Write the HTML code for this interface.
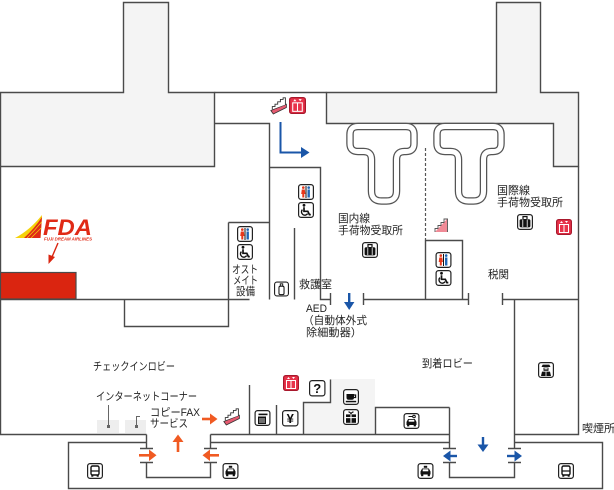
<!DOCTYPE html>
<html>
<head>
<meta charset="utf-8">
<style>
html,body{margin:0;padding:0;background:#fff;}
svg{display:block;}
text{font-family:"Liberation Sans","Noto Sans CJK JP",sans-serif;font-size:11px;fill:#222;}
</style>
</head>
<body>
<svg width="614" height="490" viewBox="0 0 614 490" xmlns="http://www.w3.org/2000/svg">
<defs>
  <symbol id="bus" viewBox="0 0 16 16">
    <rect x="0.6" y="0.6" width="14.8" height="14.8" rx="2.5" fill="#fff" stroke="#222" stroke-width="1.2"/>
    <rect x="4" y="3" width="8" height="9" rx="1.5" fill="#fff" stroke="#111" stroke-width="1.4"/>
    <line x1="4" y1="8" x2="12" y2="8" stroke="#111" stroke-width="1.2"/>
    <rect x="4.3" y="11.5" width="2" height="2.2" fill="#111"/>
    <rect x="9.7" y="11.5" width="2" height="2.2" fill="#111"/>
  </symbol>
  <symbol id="taxi" viewBox="0 0 16 16">
    <rect x="0.6" y="0.6" width="14.8" height="14.8" rx="2.5" fill="#fff" stroke="#222" stroke-width="1.2"/>
    <rect x="6.3" y="2.8" width="3.4" height="2" fill="#111"/>
    <path d="M3,11.5 V8.5 L4.6,5.5 H11.4 L13,8.5 V11.5 Z" fill="#111"/>
    <rect x="5.2" y="6.3" width="5.6" height="2" fill="#fff"/>
    <rect x="3.6" y="11" width="2.2" height="2.2" fill="#111"/>
    <rect x="10.2" y="11" width="2.2" height="2.2" fill="#111"/>
  </symbol>
  <symbol id="wc" viewBox="0 0 16 16">
    <rect x="0.6" y="0.6" width="14.8" height="14.8" rx="2.5" fill="#fff" stroke="#222" stroke-width="1.2"/>
    <circle cx="5.3" cy="3.6" r="1.3" fill="#e8381b"/>
    <path d="M3.8,5.5 H6.8 L7.4,10 H6.3 V13.5 H4.3 V10 H3.2 Z" fill="#e8381b"/>
    <line x1="8" y1="2" x2="8" y2="14" stroke="#111" stroke-width="1"/>
    <circle cx="10.7" cy="3.6" r="1.3" fill="#1f66b5"/>
    <rect x="9.5" y="5.5" width="2.4" height="8" fill="#1f66b5"/>
  </symbol>
  <symbol id="whl" viewBox="0 0 16 16">
    <rect x="0.6" y="0.6" width="14.8" height="14.8" rx="2.5" fill="#fff" stroke="#222" stroke-width="1.2"/>
    <circle cx="6" cy="3.3" r="1.4" fill="#111"/>
    <path d="M6,5.3 V9.3 H9.8 L11.4,12.6 H12.8" fill="none" stroke="#111" stroke-width="1.7"/>
    <path d="M4.4,7.6 A3.3,3.3 0 1 0 9.6,11.6" fill="none" stroke="#111" stroke-width="1.4"/>
  </symbol>
  <symbol id="elv" viewBox="0 0 16 16">
    <rect x="0.6" y="0.6" width="14.8" height="14.8" rx="2" fill="#e8334a" stroke="#a8182c" stroke-width="1.2"/>
    <rect x="3.5" y="5.5" width="9" height="8" fill="none" stroke="#fff" stroke-width="1"/>
    <line x1="8" y1="5.5" x2="8" y2="13.5" stroke="#fff" stroke-width="1"/>
    <path d="M4,4 L5.5,2 L7,4 Z M9,2 L10.5,4 L12,2 Z" fill="#fff"/>
  </symbol>
  <symbol id="esc" viewBox="0 0 17 18">
    <path d="M0.8,13.5 L3.3,17 L16.4,10.5 L16.4,7.2 Z" fill="#e55a70" stroke="#333" stroke-width="0.8"/>
    <path d="M2.3,12.4 V9.6 H5 V7.2 H7.7 V4.8 H10.4 V2.4 H13.1 V0.8 H15.4 V7.6" fill="#fff" stroke="#333" stroke-width="0.9"/>
  </symbol>
  <symbol id="stair" viewBox="0 0 14 16">
    <path d="M1,15 L13.5,15 L13.5,1.5 Z" fill="#f08a96"/>
    <path d="M1,15 V11.5 H4 V8.5 H7 V5.5 H10 V2 H13.5 V15" fill="none" stroke="#555" stroke-width="0.9"/>
  </symbol>
  <symbol id="bag" viewBox="0 0 16 16">
    <rect x="0.6" y="0.6" width="14.8" height="14.8" rx="2.5" fill="#fff" stroke="#222" stroke-width="1.2"/>
    <rect x="6" y="2.6" width="4" height="3" fill="none" stroke="#111" stroke-width="1.2"/>
    <rect x="2.6" y="5.2" width="10.8" height="8.2" rx="1.5" fill="#111"/>
    <line x1="5.8" y1="5.5" x2="5.8" y2="13" stroke="#fff" stroke-width="0.8"/>
    <line x1="10.2" y1="5.5" x2="10.2" y2="13" stroke="#fff" stroke-width="0.8"/>
  </symbol>
  <symbol id="bottle" viewBox="0 0 16 16">
    <rect x="0.6" y="0.6" width="14.8" height="14.8" rx="2.5" fill="#fff" stroke="#222" stroke-width="1.2"/>
    <rect x="6.7" y="2.5" width="2.6" height="2.5" fill="none" stroke="#111" stroke-width="1"/>
    <rect x="5.3" y="5" width="5.4" height="9" rx="1.5" fill="#fff" stroke="#111" stroke-width="1.1"/>
  </symbol>
  <symbol id="customs" viewBox="0 0 16 16">
    <rect x="0.6" y="0.6" width="14.8" height="14.8" rx="2.5" fill="#fff" stroke="#222" stroke-width="1.2"/>
    <path d="M3.5,5 H12.5 L11.3,2.6 H4.7 Z" fill="#111"/>
    <rect x="5.5" y="5.6" width="5" height="3.2" fill="#111"/>
    <rect x="6.4" y="6.2" width="3.2" height="1.2" fill="#fff"/>
    <path d="M3,14 L4,9.6 H12 L13,14 Z" fill="#111"/>
    <line x1="8" y1="9.6" x2="8" y2="14" stroke="#fff" stroke-width="0.8"/>
  </symbol>
  <symbol id="atm" viewBox="0 0 16 16">
    <rect x="0.6" y="0.6" width="14.8" height="14.8" rx="2.5" fill="#fff" stroke="#222" stroke-width="1.2"/>
    <rect x="4" y="3.6" width="9" height="1.6" fill="#111"/>
    <rect x="3.5" y="6.5" width="8" height="7.5" fill="#111"/>
    <line x1="5.5" y1="8" x2="5.5" y2="13" stroke="#fff" stroke-width="0.8"/>
    <line x1="7.5" y1="8" x2="7.5" y2="13" stroke="#fff" stroke-width="0.8"/>
    <line x1="9.5" y1="8" x2="9.5" y2="13" stroke="#fff" stroke-width="0.8"/>
  </symbol>
  <symbol id="coffee" viewBox="0 0 16 16">
    <rect x="0.6" y="0.6" width="14.8" height="14.8" rx="2.5" fill="#fff" stroke="#222" stroke-width="1.2"/>
    <path d="M3.5,5 H11 V8.5 Q11,10.8 8.8,10.8 H5.7 Q3.5,10.8 3.5,8.5 Z" fill="#111"/>
    <path d="M11,6 H12.6 V8.5 H11" fill="none" stroke="#111" stroke-width="1.2"/>
    <rect x="2.8" y="11.8" width="10.4" height="1.5" fill="#111"/>
  </symbol>
  <symbol id="gift" viewBox="0 0 16 16">
    <rect x="0.6" y="0.6" width="14.8" height="14.8" rx="2.5" fill="#fff" stroke="#222" stroke-width="1.2"/>
    <path d="M5.5,2.8 Q8,3.6 8,5.2 Q8,3.6 10.5,2.8" fill="none" stroke="#111" stroke-width="1.1"/>
    <rect x="3" y="5.4" width="10" height="8.4" fill="#111"/>
    <line x1="8" y1="5.4" x2="8" y2="13.8" stroke="#fff" stroke-width="1.1"/>
    <line x1="3" y1="8.6" x2="13" y2="8.6" stroke="#fff" stroke-width="1.1"/>
  </symbol>
  <symbol id="rent" viewBox="0 0 16 16">
    <rect x="0.6" y="0.6" width="14.8" height="14.8" rx="2.5" fill="#fff" stroke="#222" stroke-width="1.2"/>
    <circle cx="10.5" cy="3.5" r="1.3" fill="none" stroke="#111" stroke-width="1"/>
    <line x1="5" y1="3.5" x2="9.2" y2="3.5" stroke="#111" stroke-width="1"/>
    <path d="M3,12 V9 L4.6,6 H11.4 L13,9 V12 Z" fill="#111"/>
    <rect x="5.2" y="6.8" width="5.6" height="1.9" fill="#fff"/>
    <rect x="3.6" y="11.4" width="2.2" height="2" fill="#111"/>
    <rect x="10.2" y="11.4" width="2.2" height="2" fill="#111"/>
  </symbol>
</defs>

<!-- gray blocks -->
<path d="M0.5,92.5 H123.5 V2.5 H168.5 V92.5 H214.5 V166.5 H0.5 Z" fill="#f4f4f4" stroke="#4a4a4a" stroke-width="1.4"/>
<path d="M326.5,92.5 H496.5 V2.5 H540.5 V92.5 H578.5 V166.5 H553.5 V123.5 H326.5 Z" fill="#f4f4f4" stroke="#4a4a4a" stroke-width="1.4"/>
<path d="M303,402 H330 V379 H375 V434 H303 Z" fill="#f4f4f4"/>
<rect x="97" y="420" width="22" height="13" fill="#eeeeee"/>
<rect x="125" y="420" width="21" height="13" fill="#eeeeee"/>

<!-- walls -->
<g fill="none" stroke="#4a4a4a" stroke-width="1.4">
  <path d="M214.5,92.5 H326.5"/>
  <path d="M214.5,123.5 H269.5 V299.5"/>
  <path d="M269.5,167.5 H320.5 V299.5 H330.5"/>
  <path d="M330.5,293 V305"/>
  <path d="M363.5,293 V305 M363.5,299.5 H468.5 M468.5,293 V305"/>
  <path d="M502.5,293 V305 M502.5,299.5 H578.5"/>
  <path d="M425.5,299.5 V240.5 H462.5 V299.5"/>
  <path d="M578.5,166.5 V434.5 H514.5"/>
  <path d="M0.5,166.5 V434.5 H146.5"/>
  <path d="M228.5,222.5 H269.5"/>
  <path d="M228.5,222.5 V326.5 H124.5 V299.5"/>
  <path d="M0.5,299.5 H249.5"/>
  <path d="M294.5,228 V299.5"/>
  <path d="M249.5,385 V434.5"/>
  <path d="M276.5,405 V434.5"/>
  <path d="M303.5,434.5 V402.5 H330.5 V379.5"/>
  <path d="M375.5,434.5 V407.5 H449.5"/>
  <!-- curb box -->
  <path d="M146.5,442.5 H68.5 V488.5 H602.5 V442.5 H514.5"/>
  <path d="M210.5,434.5 H449.5 M210.5,442.5 H449.5"/>
  <!-- left entrance -->
  <path d="M146.5,434.5 V448.5 M140,448.5 H153 M140,462.5 H153 M146.5,462.5 V477.5 H210.5 V462.5 M204,462.5 H217 M204,448.5 H217 M210.5,448.5 V434.5"/>
  <!-- right entrance -->
  <path d="M449.5,407.5 V448.5 M443,448.5 H456 M443,462.5 H456 M449.5,462.5 V477.5 H514.5 V462.5 M508,462.5 H521 M508,448.5 H521 M514.5,448.5 V299.5"/>
</g>
<path d="M425.5,148 V240" fill="none" stroke="#555" stroke-width="1.2" stroke-dasharray="3,2"/>

<!-- carousels -->
<g fill="none">
  <path id="tr" d="M358,126.5 H406 Q414,126.5 414,134.5 V143.5 Q414,151.5 406,151.5 H404.5 Q396.5,151.5 396.5,159.5 V191 Q396.5,201 386.5,201 H381.5 Q371.5,201 371.5,191 V159.5 Q371.5,151.5 363.5,151.5 H358 Q350,151.5 350,143.5 V134.5 Q350,126.5 358,126.5 Z" stroke="#555" stroke-width="7.5"/>
  <path d="M358,126.5 H406 Q414,126.5 414,134.5 V143.5 Q414,151.5 406,151.5 H404.5 Q396.5,151.5 396.5,159.5 V191 Q396.5,201 386.5,201 H381.5 Q371.5,201 371.5,191 V159.5 Q371.5,151.5 363.5,151.5 H358 Q350,151.5 350,143.5 V134.5 Q350,126.5 358,126.5 Z" stroke="#fff" stroke-width="5"/>
  <g transform="translate(87,0)">
    <path d="M358,126.5 H406 Q414,126.5 414,134.5 V143.5 Q414,151.5 406,151.5 H404.5 Q396.5,151.5 396.5,159.5 V191 Q396.5,201 386.5,201 H381.5 Q371.5,201 371.5,191 V159.5 Q371.5,151.5 363.5,151.5 H358 Q350,151.5 350,143.5 V134.5 Q350,126.5 358,126.5 Z" stroke="#555" stroke-width="7.5"/>
    <path d="M358,126.5 H406 Q414,126.5 414,134.5 V143.5 Q414,151.5 406,151.5 H404.5 Q396.5,151.5 396.5,159.5 V191 Q396.5,201 386.5,201 H381.5 Q371.5,201 371.5,191 V159.5 Q371.5,151.5 363.5,151.5 H358 Q350,151.5 350,143.5 V134.5 Q350,126.5 358,126.5 Z" stroke="#fff" stroke-width="5"/>
  </g>
</g>

<!-- red FDA counter -->
<rect x="0.5" y="272.5" width="75.5" height="26.5" fill="#da2510" stroke="#4a4a4a" stroke-width="1.2"/>

<!-- FDA logo -->
<path d="M15,238 Q30,230 42,215 L40.5,238 Z" fill="#f5d20a"/>
<path d="M24,238 Q34,229 42,217 L40.5,238 Z" fill="#e02a16"/>
<path d="M27,238 Q35,230 41.6,222 M31,238 Q37,232 41.2,228" fill="none" stroke="#f5d20a" stroke-width="0.7"/>
<text x="43" y="235" textLength="49" lengthAdjust="spacingAndGlyphs" style="font-size:22px;font-weight:bold;font-style:italic;fill:#e02a16">FDA</text>
<text x="44" y="240.5" textLength="48" lengthAdjust="spacingAndGlyphs" style="font-size:4.6px;font-weight:bold;font-style:italic;fill:#e02a16">FUJI DREAM AIRLINES</text>
<line x1="58" y1="243" x2="52" y2="257" stroke="#da2510" stroke-width="1.4"/>
<polygon points="48.5,264 48.5,254.5 55,257" fill="#da2510"/>

<!-- kiosk leaders -->
<path d="M108.5,405 V427 M140,416.5 H136.5 V427" fill="none" stroke="#666" stroke-width="1"/>
<rect x="107" y="425" width="3" height="3" fill="#666"/>
<rect x="135" y="425" width="3" height="3" fill="#666"/>

<!-- orange arrows -->
<g fill="#f05a22" stroke="none">
  <rect x="139" y="454" width="11" height="2.6"/><polygon points="149,449.5 156.5,455.3 149,461"/>
  <rect x="209" y="454" width="10" height="2.6"/><polygon points="210,449.5 202.5,455.3 210,461"/>
  <rect x="176.7" y="441" width="2.6" height="11"/><polygon points="172.5,442 178,434.5 183.5,442"/>
  <rect x="202" y="417.7" width="9" height="2.6"/><polygon points="210,413.5 217.5,419 210,424.5"/>
</g>
<!-- blue arrows -->
<g fill="#1a56a8">
  <path d="M280.5,122 V152.5 H302" fill="none" stroke="#1a56a8" stroke-width="2"/>
  <polygon points="301,147 309.5,152.5 301,158"/>
  <rect x="348" y="293" width="2.4" height="10"/><polygon points="344,302 349.2,310 354.4,302"/>
  <rect x="449" y="454.8" width="8" height="2.4"/><polygon points="450.5,450.5 443,456 450.5,461.5"/>
  <rect x="507" y="454.8" width="8" height="2.4"/><polygon points="514.5,450.5 522,456 514.5,461.5"/>
  <rect x="481.8" y="437" width="2.4" height="8"/><polygon points="477.5,444.5 483,452 488.5,444.5"/>
</g>

<!-- icons -->
<use href="#esc" x="270" y="97" width="17" height="18"/>
<use href="#elv" x="289" y="97" width="17" height="17"/>
<use href="#wc" x="298" y="184" width="16" height="16"/>
<use href="#whl" x="298" y="202" width="16" height="16"/>
<use href="#wc" x="237" y="226" width="16" height="16"/>
<use href="#whl" x="237" y="244" width="16" height="16"/>
<use href="#bottle" x="274" y="281" width="15" height="16"/>
<use href="#bag" x="362" y="242" width="16" height="16"/>
<use href="#bag" x="517" y="214" width="16" height="16"/>
<use href="#elv" x="556" y="219" width="16" height="16"/>
<use href="#stair" x="434" y="217" width="14" height="16"/>
<use href="#wc" x="435" y="252" width="17" height="16"/>
<use href="#whl" x="435" y="270" width="17" height="16"/>
<use href="#customs" x="538" y="362" width="16" height="16"/>
<use href="#elv" x="283" y="375" width="16" height="16"/>
<g transform="translate(309,380)">
  <rect x="0.6" y="0.6" width="15.3" height="15.3" rx="2.5" fill="#fff" stroke="#222" stroke-width="1.2"/>
  <text x="8.2" y="13" text-anchor="middle" style="font-size:13px;font-weight:bold;fill:#111">?</text>
</g>
<use href="#coffee" x="343" y="389" width="16" height="16"/>
<use href="#gift" x="343" y="409" width="16" height="16"/>
<use href="#atm" x="254" y="410" width="17" height="16"/>
<g transform="translate(282,410)">
  <rect x="0.6" y="0.6" width="15.3" height="15.3" rx="2.5" fill="#fff" stroke="#222" stroke-width="1.2"/>
  <text x="8.2" y="13" text-anchor="middle" style="font-size:13px;font-weight:bold;fill:#111">¥</text>
</g>
<use href="#rent" x="403" y="413" width="17" height="16"/>
<use href="#esc" x="223" y="408" width="17" height="18"/>
<use href="#bus" x="87" y="463" width="16" height="16"/>
<use href="#bus" x="558" y="463" width="16" height="16"/>
<use href="#taxi" x="222" y="463" width="17" height="16"/>
<use href="#taxi" x="417" y="463" width="17" height="16"/>

<!-- labels -->
<text x="232" y="273" textLength="26" lengthAdjust="spacingAndGlyphs">オスト</text>
<text x="233" y="284" textLength="25" lengthAdjust="spacingAndGlyphs">メイト</text>
<text x="236" y="295" textLength="19" lengthAdjust="spacingAndGlyphs">設備</text>
<text x="299" y="288" textLength="33" lengthAdjust="spacingAndGlyphs">救護室</text>
<text x="306" y="312" textLength="21" lengthAdjust="spacingAndGlyphs">AED</text>
<text x="303" y="324" textLength="64" lengthAdjust="spacingAndGlyphs">（自動体外式</text>
<text x="306" y="336" textLength="56" lengthAdjust="spacingAndGlyphs">除細動器）</text>
<text x="338" y="222" textLength="32" lengthAdjust="spacingAndGlyphs">国内線</text>
<text x="338" y="234" textLength="65" lengthAdjust="spacingAndGlyphs">手荷物受取所</text>
<text x="497" y="194" textLength="33" lengthAdjust="spacingAndGlyphs">国際線</text>
<text x="497" y="206" textLength="66" lengthAdjust="spacingAndGlyphs">手荷物受取所</text>
<text x="488" y="278" textLength="21" lengthAdjust="spacingAndGlyphs">税関</text>
<text x="422" y="367" textLength="51" lengthAdjust="spacingAndGlyphs">到着ロビー</text>
<text x="582" y="432" textLength="33" lengthAdjust="spacingAndGlyphs">喫煙所</text>
<text x="93" y="370" textLength="82" lengthAdjust="spacingAndGlyphs">チェックインロビー</text>
<text x="96" y="400" textLength="101" lengthAdjust="spacingAndGlyphs">インターネットコーナー</text>
<text x="150" y="416" textLength="50" lengthAdjust="spacingAndGlyphs">コピーFAX</text>
<text x="150" y="427" textLength="38" lengthAdjust="spacingAndGlyphs">サービス</text>
</svg>
</body>
</html>
